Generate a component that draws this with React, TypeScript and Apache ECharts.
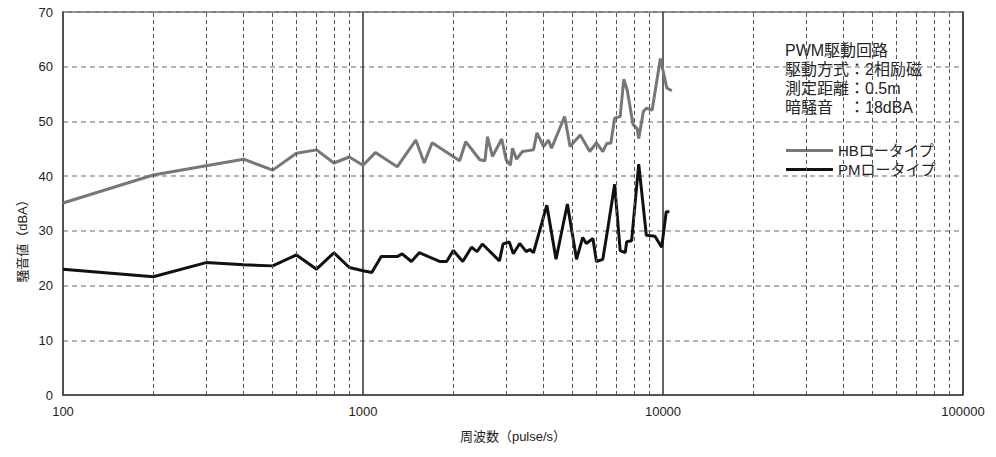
import React, { useEffect, useRef } from "react";
import * as echarts from "echarts";

const hbFreq = [100, 200, 300, 400, 500, 600, 700, 800, 900, 1000, 1100, 1300, 1500, 1600, 1700, 2100, 2200, 2450, 2550, 2600, 2700, 2900, 3000, 3100, 3150, 3250, 3400, 3700, 3800, 4000, 4150, 4250, 4700, 4900, 5300, 5700, 6000, 6300, 6500, 6700, 6900, 7200, 7400, 7600, 7950, 8200, 8300, 8600, 8800, 9200, 9800, 10300, 10700];
const hbNoise = [35.1, 40.2, 41.9, 43.1, 41.1, 44.2, 44.8, 42.4, 43.5, 42.0, 44.3, 41.7, 46.6, 42.4, 46.1, 42.8, 46.3, 43.0, 42.8, 47.2, 43.6, 46.8, 43.0, 42.0, 45.1, 43.1, 44.5, 44.8, 47.9, 45.4, 46.6, 45.1, 50.9, 45.4, 47.5, 44.5, 46.1, 44.5, 46.0, 46.0, 50.6, 50.9, 57.7, 55.7, 49.4, 48.7, 46.9, 51.8, 52.4, 52.1, 61.5, 56.1, 55.6];

const pmFreq = [100, 200, 300, 400, 500, 600, 700, 800, 900, 1000, 1070, 1150, 1300, 1350, 1450, 1540, 1800, 1900, 2000, 2150, 2300, 2400, 2500, 2850, 2930, 3070, 3170, 3330, 3500, 3600, 3700, 4100, 4400, 4800, 5150, 5400, 5550, 5840, 6000, 6300, 6550, 6900, 7200, 7480, 7570, 7860, 8300, 8800, 9400, 9900, 10250, 10500];
const pmNoise = [23.0, 21.6, 24.2, 23.8, 23.6, 25.6, 23.0, 26.0, 23.3, 22.7, 22.4, 25.3, 25.3, 25.8, 24.4, 26.0, 24.4, 24.4, 26.4, 24.4, 27.0, 26.2, 27.6, 24.5, 27.6, 28.0, 25.8, 27.7, 26.2, 26.6, 26.0, 34.7, 24.8, 34.9, 24.8, 28.8, 27.7, 28.6, 24.4, 24.8, 30.5, 38.5, 26.4, 26.0, 28.0, 28.2, 42.2, 29.2, 29.0, 27.0, 33.5, 33.5];

const minorFreqs = [200, 300, 400, 500, 600, 700, 800, 900, 2000, 3000, 4000, 5000, 6000, 7000, 8000, 9000, 20000, 30000, 40000, 50000, 60000, 70000, 80000, 90000];

const seriesNames = ["HBロータイプ", "PMロータイプ"];
const noteLines = ["PWM駆動回路", "駆動方式：2相励磁", "測定距離：0.5m", "暗騒音　：18dBA"];

const FONT = "'Liberation Sans', 'Noto Sans CJK JP', sans-serif";

export default function App() {
  const ref = useRef<HTMLDivElement>(null);
  useEffect(() => {
    if (!ref.current) return;
    const chart = echarts.init(ref.current, undefined, { renderer: "svg" });
    chart.setOption({
      animation: false,
      backgroundColor: "#fff",
      textStyle: { fontFamily: FONT },
      grid: {
        left: 63,
        right: 33,
        top: 12,
        bottom: 62,
        show: true,
        borderColor: "#555",
        borderWidth: 1.5,
      },
      legend: {
        orient: "vertical",
        left: 781,
        top: 138,
        icon: "rect",
        itemWidth: 47,
        itemHeight: 3,
        itemGap: 4,
        textStyle: { fontSize: 15, color: "#222", fontFamily: FONT },
        data: seriesNames,
      },
      xAxis: {
        type: "log",
        logBase: 10,
        min: 100,
        max: 100000,
        name: "周波数（pulse/s）",
        nameLocation: "middle",
        nameGap: 35,
        nameTextStyle: { fontSize: 13, color: "#222", fontFamily: FONT },
        axisLine: { show: true, lineStyle: { color: "#444", width: 1.5 } },
        axisTick: { show: false },
        axisLabel: {
          fontSize: 13,
          color: "#222",
          margin: 10,
          formatter: (v: number) => String(Math.round(v)),
        },
        splitLine: { show: true, lineStyle: { color: "#333", width: 1.5, type: "solid" } },
      },
      yAxis: {
        type: "value",
        min: 0,
        max: 70,
        interval: 10,
        axisLine: { show: true, lineStyle: { color: "#555", width: 1.5 } },
        axisTick: { show: false },
        axisLabel: { fontSize: 13, color: "#222", margin: 10 },
        splitLine: { show: true, lineStyle: { color: "#9a9a9a", width: 1.5, type: [5, 4] } },
      },
      graphic: [
        {
          type: "text",
          x: 22,
          y: 238,
          rotation: Math.PI / 2,
          style: {
            text: "騒音値（dBA）",
            fontSize: 13,
            fill: "#222",
            fontFamily: FONT,
            align: "center",
            verticalAlign: "middle",
          },
        },
        ...noteLines.map((t, i) => ({
          type: "text",
          x: 785,
          y: 50 + i * 19,
          style: {
            text: t,
            fontSize: 16,
            fill: "#222",
            fontFamily: FONT,
            align: "left",
            verticalAlign: "middle",
          },
        })),
      ],
      series: [
        {
          name: "grid",
          type: "line",
          data: [],
          silent: true,
          markLine: {
            silent: true,
            symbol: "none",
            label: { show: false },
            lineStyle: { color: "#555", width: 1, type: [4, 3] },
            data: minorFreqs.map((f) => ({ xAxis: f })),
          },
        },
        {
          name: seriesNames[0],
          type: "line",
          showSymbol: false,
          symbol: "none",
          lineStyle: { color: "#777", width: 3 },
          itemStyle: { color: "#777" },
          data: hbFreq.map((f, i) => [f, hbNoise[i]]),
        },
        {
          name: seriesNames[1],
          type: "line",
          showSymbol: false,
          symbol: "none",
          lineStyle: { color: "#111", width: 3 },
          itemStyle: { color: "#111" },
          data: pmFreq.map((f, i) => [f, pmNoise[i]]),
        },
      ],
    });
    return () => chart.dispose();
  }, []);
  return <div ref={ref} style={{ width: 996, height: 457, margin: "-8px 0 0 -8px" }} />;
}
